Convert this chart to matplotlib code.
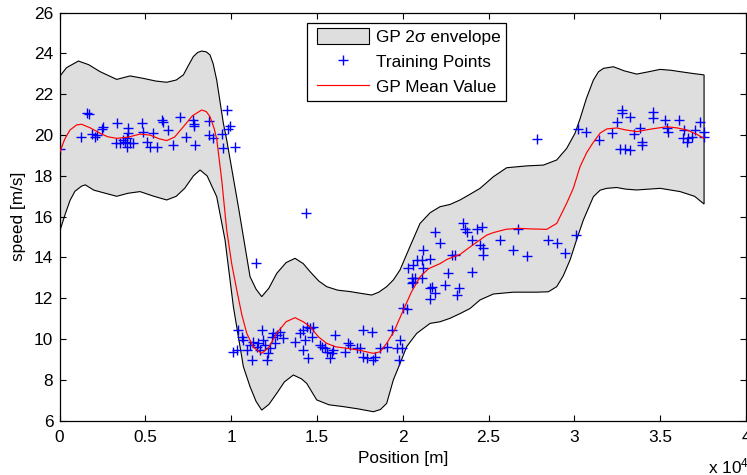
import matplotlib
matplotlib.use("Agg")
import matplotlib.pyplot as plt
from matplotlib.patches import Patch
from matplotlib.lines import Line2D
from matplotlib.legend_handler import HandlerPatch, HandlerLine2D

plt.rcParams['font.family'] = ['Liberation Sans', 'DejaVu Sans']
plt.rcParams['mathtext.default'] = 'regular'

# GP mean curve
mean_x = [0, 300, 610, 1000, 1290, 1800, 2360, 2800, 3330, 4000, 4690, 5275, 5800, 6245, 6700,
          7215, 7750, 8285, 8550, 8770, 9000, 9160, 9450, 9740, 10030, 10325, 10620, 10910,
          11300, 11780, 12200, 12645, 13200, 13720, 14200, 14595, 15100, 15570, 16100, 16735,
          17500, 18285, 18685, 19060, 19500, 20035, 20500, 21010, 21500, 22170, 22560, 23000,
          23337, 23730, 24308, 24895, 25279, 26000, 26735, 27500, 28386, 28969, 29551, 29940,
          30328, 30720, 31105, 31500, 31882, 32464, 33000, 33630, 34500, 35380, 36000, 36545,
          37100, 37555]
mean_y = [19.12, 19.8, 20.25, 20.5, 20.53, 20.35, 20.09, 19.92, 19.84, 19.9, 20.05, 20.0, 19.82,
          19.73, 19.9, 20.41, 20.95, 21.23, 21.15, 20.9, 20.35, 19.8, 17.8, 15.35, 13.7, 12.41,
          11.2, 10.28, 9.6, 9.30, 9.6, 10.28, 10.85, 11.05, 10.85, 10.61, 10.1, 9.79, 9.62, 9.55,
          9.45, 9.30, 9.38, 9.79, 10.4, 11.43, 12.3, 13.06, 13.45, 13.7, 13.9, 14.05, 14.15, 14.4,
          14.75, 15.1, 15.22, 15.38, 15.43, 15.4, 15.38, 15.67, 16.66, 17.4, 18.45, 19.15, 19.65,
          20.1, 20.3, 20.35, 20.25, 20.17, 20.3, 20.41, 20.35, 20.25, 20.05, 19.84]

# Upper envelope (mean + 2 sigma)
up_x = [0, 400, 1100, 1700, 2360, 3330, 4107, 4884, 5600, 6244, 6800, 7215, 7500, 7797, 8050,
        8283, 8550, 8767, 8950, 9157, 9545, 9741, 10420, 11100, 11450, 11780, 12200, 12654,
        13200, 13722, 14200, 14595, 15100, 15567, 16200, 16926, 17500, 18188, 18600, 19062,
        19450, 19839, 20400, 21004, 21600, 22170, 22755, 23337, 23919, 24502, 25279, 26056,
        27221, 28192, 28969, 29551, 30036, 30329, 30700, 31106, 31400, 31689, 32271, 32900,
        33631, 34300, 34990, 35600, 36155, 36900, 37555]
up_y = [22.86, 23.3, 23.63, 23.45, 23.11, 22.73, 22.9, 22.78, 22.65, 22.59, 22.7, 22.95, 23.4,
        23.85, 24.05, 24.12, 24.08, 23.93, 23.5, 22.70, 20.58, 19.76, 16.49, 13.06, 12.45, 12.08,
        12.5, 13.22, 13.75, 13.96, 13.7, 13.31, 12.85, 12.57, 12.4, 12.33, 12.25, 12.16, 12.3,
        12.57, 12.9, 13.39, 14.5, 15.67, 16.2, 16.49, 16.6, 16.82, 17.1, 17.39, 17.96, 18.40,
        18.49, 18.53, 18.78, 19.35, 20.09, 20.8, 21.8, 22.7, 23.1, 23.27, 23.35, 23.15, 22.99,
        23.1, 23.22, 23.18, 23.11, 23.02, 22.95]

# Lower envelope (mean - 2 sigma)
lo_x = [0, 320, 612, 900, 1290, 1500, 2000, 3330, 4000, 4690, 5500, 6245, 6800, 7300, 7800, 8187,
        8600, 9158, 9643, 10129, 10711, 11100, 11450, 11780, 12200, 12654, 13100, 13624, 14100,
        14401, 14984, 15700, 16537, 17400, 18285, 18700, 19062, 19450, 19840, 20227, 20810,
        21589, 22170, 22754, 23337, 23920, 24502, 25279, 26444, 27803, 28483, 28969, 29350,
        29746, 30140, 30523, 31105, 31500, 31882, 32464, 33000, 33630, 35000, 36160, 37000,
        37555]
lo_y = [15.25, 16.1, 16.8, 17.25, 17.5, 17.56, 17.3, 17.0, 17.15, 17.23, 17.0, 16.82, 17.0, 17.4,
        18.0, 18.29, 18.0, 16.98, 14.86, 11.59, 8.65, 7.67, 6.95, 6.52, 6.8, 7.34, 7.9, 8.24,
        8.05, 7.83, 7.02, 6.78, 6.69, 6.58, 6.44, 6.55, 6.85, 8.0, 8.8, 9.63, 10.28, 10.77,
        10.85, 11.02, 11.25, 11.5, 11.92, 12.21, 12.3, 12.3, 12.32, 12.57, 13.1, 13.88, 14.9,
        15.84, 16.98, 17.3, 17.39, 17.43, 17.35, 17.31, 17.39, 17.23, 17.0, 16.62]

# Training points
pts_x = [50, 1233, 1583, 1700, 1874, 2068, 2166, 2457, 2554, 3330, 3272, 3525, 3719, 3816, 3913,
         4010, 4010, 4107, 4301, 3913, 4787, 4884, 5078, 5272, 5466, 5661, 5952, 6011, 6341,
         6632, 7020, 7370, 7797, 7836, 7836, 7894, 8729, 8690, 8962, 9448, 9545, 9739, 9836,
         9933, 10224,
         14363, 11450, 10420, 10129, 10323, 10615, 10712, 10906, 11197, 11100, 11294, 11488,
         11585, 11683, 11780, 11877, 11974, 12071, 12168, 12265, 12362, 12459, 12556, 12654,
         12848, 13003, 13722, 14013, 14207, 14304, 14401, 14595, 14693, 14790, 14207, 14499,
         15178, 15275, 15470, 15567, 15761, 15858, 15955, 16052, 16635, 16829, 16926, 17314,
         17509, 17703, 17703, 17897, 18188, 18285, 18383, 18674, 19062, 19354, 19645, 19839,
         19800,
         19938, 20035, 20230, 20327, 20618, 20812, 21104, 21200, 21589, 21200, 20521, 20618,
         20715, 20521, 21104, 21589, 21686, 21589, 21880, 21880, 22172, 22463, 22657, 22851,
         23045, 23143, 23298, 23531, 23628, 23764, 24308, 24599, 24016, 24016, 24502, 24696,
         24696, 25667, 26444, 26735, 27221, 28483, 28969, 29454, 30095,
         27820,
         30232, 30679, 31456, 32174, 32504, 32757, 32757, 33242, 32660, 32951, 33242, 33475,
         33825, 33922, 33922, 34602, 34602, 35281, 35417, 35475, 36116, 36388, 36349, 36543,
         36641, 36835, 37320, 37029, 37553, 37553]
pts_y = [19.30, 19.89, 21.10, 21.04, 20.04, 19.92, 20.00, 20.28, 20.38, 20.61, 19.60, 19.60,
         19.76, 19.68, 19.84, 20.09, 20.33, 19.60, 19.60, 19.43, 20.58, 20.17, 19.68, 19.43,
         20.09, 19.43, 20.74, 20.66, 20.25, 19.51, 20.87, 19.89, 20.74, 20.54, 20.45, 19.51,
         20.71, 20.00, 19.84, 20.05, 19.35, 21.23, 20.28, 20.45, 19.40,
         16.20, 13.75, 10.45, 9.38, 9.47, 10.12, 9.96, 9.47, 8.98, 9.71, 9.87, 9.63, 9.79, 9.47,
         10.45, 9.96, 9.71, 8.98, 9.30, 9.55, 10.12, 10.28, 9.79, 10.20, 10.36, 10.04, 9.87,
         10.28, 10.45, 9.96, 10.61, 10.53, 10.12, 10.61, 9.47, 9.06, 9.71, 9.63, 9.55, 9.38,
         9.06, 9.30, 9.47, 10.20, 9.38, 9.79, 9.71, 9.55, 9.55, 9.14, 10.45, 9.06, 10.36, 8.98,
         9.14, 9.55, 9.63, 10.45, 9.55, 9.96, 8.98,
         9.55, 11.51, 11.46, 13.47, 13.63, 13.88, 13.88, 14.37, 13.91, 13.47, 12.98, 12.82,
         12.98, 12.73, 12.98, 12.49, 12.57, 11.99, 12.24, 15.27, 14.69, 12.65, 13.22, 14.12,
         14.12, 12.16, 12.49, 15.67, 15.38, 15.27, 15.38, 15.51, 14.86, 13.30, 14.61, 14.45,
         14.12, 14.86, 14.37, 15.38, 14.07, 14.86, 14.69, 14.20, 15.10,
         19.8,
         20.28, 20.17, 19.76, 20.09, 20.66, 21.23, 21.07, 20.90, 19.30, 19.30, 19.27, 20.05,
         20.33, 19.68, 19.51, 21.15, 20.82, 20.74, 20.33, 20.17, 20.74, 20.25, 19.84, 19.68,
         19.84, 19.89, 20.66, 20.25, 20.17, 19.92]

xticks = [0, 5000, 10000, 15000, 20000, 25000, 30000, 35000, 40000]
xtick_labels = ['0', '0.5', '1', '1.5', '2', '2.5', '3', '3.5', '4']
yticks = [6, 8, 10, 12, 14, 16, 18, 20, 22, 24, 26]
legend_labels = ['GP 2σ envelope', 'Training Points', 'GP Mean Value']

FS = 12.4
FPX = FS * 100 / 72
fig = plt.figure(figsize=(7.47, 4.75), dpi=100)
ax = fig.add_axes([0.0797, 0.1143, 0.919, 0.859])

ax.fill(up_x + lo_x[::-1], up_y + lo_y[::-1], facecolor='#dedede', edgecolor='black',
        linewidth=0.8, zorder=1)
ax.plot(pts_x, pts_y, linestyle='none', marker='+', color='blue', markersize=6.8,
        markeredgewidth=1.0, zorder=2)
ax.plot(mean_x, mean_y, color='red', linewidth=0.85, zorder=3)

ax.set_xlim(0, 40000)
ax.set_ylim(6, 26)
ax.set_xticks(xticks)
ax.set_xticklabels(xtick_labels)
ax.set_yticks(yticks)
ax.tick_params(direction='in', top=True, right=True, labelsize=FS, length=4, width=0.8)
ax.tick_params(axis='x', pad=7)
ax.tick_params(axis='y', pad=4.5)
for s in ax.spines.values():
    s.set_linewidth(0.9)
ax.set_xlabel('Position [m]', fontsize=FS, labelpad=4)
ax.set_ylabel('speed [m/s]', fontsize=FS, labelpad=6)
fig.text(708 / 747, 1 - 466.7 / 475, r'x 10$^4$', fontsize=FS, ha='left', va='center')

handles = [Patch(facecolor='#dedede', edgecolor='black', linewidth=0.8),
           Line2D([], [], linestyle='none', marker='+', color='blue', markersize=6.8,
                  markeredgewidth=1.0),
           Line2D([], [], color='red', linewidth=0.85)]
hpad = 4.5 / FPX
hmap = {handles[0]: HandlerPatch(xpad=hpad),
        handles[1]: HandlerLine2D(xpad=hpad),
        handles[2]: HandlerLine2D(xpad=hpad)}
leg = ax.legend(handles, legend_labels, handler_map=hmap, loc='upper left',
                bbox_to_anchor=(307 / 747, 1 - 22.7 / 475), bbox_transform=fig.transFigure,
                fancybox=False, framealpha=1, edgecolor='black', fontsize=FS,
                handlelength=3.27, handleheight=1.05, borderpad=0.33, labelspacing=0.47,
                handletextpad=0.4, borderaxespad=0)
leg.get_frame().set_linewidth(0.9)

fig.savefig('out.png', dpi=100)
